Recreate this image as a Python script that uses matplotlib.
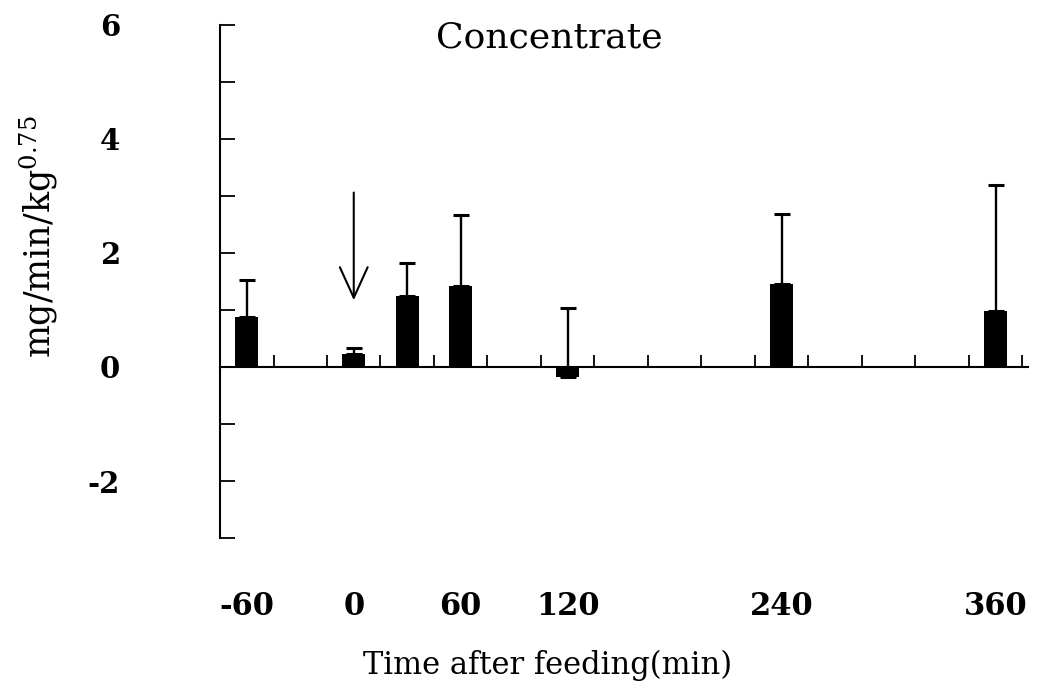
import matplotlib
matplotlib.use("Agg")
import matplotlib.pyplot as plt
import numpy as np

plt.rcParams["font.family"] = "DejaVu Serif"
plt.rcParams["axes.unicode_minus"] = False
plt.rcParams["mathtext.fontset"] = "dejavuserif"

# данные
times = [-60, 0, 30, 60, 120, 240, 360]
means = [0.87, 0.23, 1.25, 1.42, -0.17, 1.46, 0.99]
upper_err = [0.65, 0.11, 0.57, 1.24, 1.20, 1.23, 2.20]
xtick_labels = [-60, 0, 60, 120, 240, 360]
ytick_labels = [-2, 0, 2, 4, 6]

fig = plt.figure(figsize=(10.38, 6.92), dpi=100)
ax = fig.add_axes([0.212, 0.2225, 0.778, 0.7415])

ax.bar(times, means, width=13, color="black", zorder=3)
ax.errorbar(times, means, yerr=[np.zeros(len(times)), upper_err], fmt="none",
            ecolor="black", elinewidth=1.7, capsize=5.5, capthick=2.2, zorder=2)

# стрелка - момент кормления
ax.annotate("", xy=(0, 1.17), xytext=(0, 3.06),
            arrowprops=dict(arrowstyle="->, head_length=1.1, head_width=0.5",
                            color="black", lw=1.5, mutation_scale=20,
                            shrinkA=0, shrinkB=0))

ax.set_xlim(-75, 378)
ax.set_ylim(-3, 6)

for s in ["top", "right"]:
    ax.spines[s].set_visible(False)
ax.spines["left"].set_linewidth(1.5)
ax.spines["bottom"].set_position(("data", 0))
ax.spines["bottom"].set_linewidth(1.5)

ax.set_xticks(np.arange(-45, 376, 30))
ax.tick_params(axis="x", direction="in", length=9, width=1.3, labelbottom=False)

ax.set_yticks(np.arange(-3, 7, 1))
ax.set_yticklabels([str(v) if v in ytick_labels else "" for v in range(-3, 7)])
ax.tick_params(axis="y", direction="in", length=11, width=1.3, pad=72,
               labelsize=21)
for lbl in ax.get_yticklabels():
    lbl.set_fontweight("bold")

sec = ax.secondary_xaxis(0)
sec.spines["bottom"].set_visible(False)
sec.set_xticks(xtick_labels)
sec.set_xticklabels([str(v) for v in xtick_labels], fontsize=22, fontweight="bold")
sec.tick_params(axis="x", length=0, pad=38)

fig.text(548 / 1038, 1 - 665 / 692, "Time after feeding(min)", fontsize=22,
         ha="center", va="center")

ax.set_ylabel(r"mg/min/kg$^{0.75}$", fontsize=25)
ax.yaxis.set_label_coords(-0.198, 0.587)

ax.text(0.408, 0.975, "Concentrate", transform=ax.transAxes, ha="center",
        va="center", fontsize=26)

fig.savefig("out.png", dpi=100)
